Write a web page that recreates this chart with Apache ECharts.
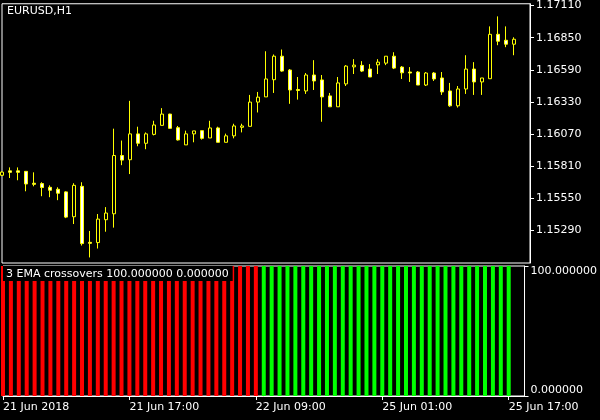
<!DOCTYPE html>
<html>
<head>
<meta charset="utf-8">
<script src="https://cdn.jsdelivr.net/npm/echarts@6/dist/echarts.min.js"></script>
<style>html,body{margin:0;padding:0;background:#000;}#c{width:600px;height:420px;}</style>
</head>
<body>
<div id="c"></div>
<script>
// Hourly bars (MT4 EURUSD,H1), plus two empty "chart shift" slots at the right
const categories = [
'06-21 01','06-21 02','06-21 03','06-21 04','06-21 05','06-21 06','06-21 07','06-21 08','06-21 09','06-21 10',
'06-21 11','06-21 12','06-21 13','06-21 14','06-21 15','06-21 16','06-21 17','06-21 18','06-21 19','06-21 20',
'06-21 21','06-21 22','06-21 23','06-22 00','06-22 01','06-22 02','06-22 03','06-22 04','06-22 05','06-22 06',
'06-22 07','06-22 08','06-22 09','06-22 10','06-22 11','06-22 12','06-22 13','06-22 14','06-22 15','06-22 16',
'06-22 17','06-22 18','06-22 19','06-22 20','06-22 21','06-22 22','06-22 23','06-25 00','06-25 01','06-25 02',
'06-25 03','06-25 04','06-25 05','06-25 06','06-25 07','06-25 08','06-25 09','06-25 10','06-25 11','06-25 12',
'06-25 13','06-25 14','06-25 15','06-25 16','06-25 17','shift1','shift2'];

const opens = [
1.15737,1.15773,1.15773,1.15769,1.15673,1.15670,1.15640,1.15624,1.15603,1.15402,
1.15648,1.15195,1.15193,1.15378,1.15426,1.15897,1.15863,1.16072,1.15996,1.16068,
1.16141,1.16232,1.16122,1.15983,1.16072,1.16098,1.16039,1.16120,1.16004,1.16056,
1.16125,1.16133,1.16329,1.16371,1.16510,1.16700,1.16588,1.16431,1.16419,1.16548,
1.16508,1.16379,1.16291,1.16476,1.16614,1.16626,1.16596,1.16630,1.16644,1.16700,
1.16612,1.16572,1.16572,1.16467,1.16564,1.16524,1.16419,1.16299,1.16435,1.16596,
1.16492,1.16518,1.16877,1.16829,1.16797];
const closes = [
1.15763,1.15761,1.15761,1.15667,1.15664,1.15638,1.15616,1.15592,1.15399,1.15656,
1.15185,1.15187,1.15383,1.15432,1.15897,1.15860,1.16072,1.15996,1.16072,1.16144,
1.16232,1.16117,1.16023,1.16072,1.16096,1.16036,1.16120,1.16004,1.16056,1.16136,
1.16136,1.16329,1.16369,1.16516,1.16700,1.16580,1.16427,1.16423,1.16548,1.16500,
1.16371,1.16291,1.16484,1.16620,1.16628,1.16580,1.16532,1.16652,1.16700,1.16604,
1.16566,1.16564,1.16467,1.16564,1.16516,1.16411,1.16299,1.16435,1.16596,1.16492,
1.16524,1.16877,1.16821,1.16797,1.16837];
const lows = [
1.15731,1.15715,1.15697,1.15608,1.15648,1.15568,1.15560,1.15536,1.15391,1.15343,
1.15169,1.15073,1.15145,1.15281,1.15314,1.15819,1.15747,1.15972,1.15948,1.16060,
1.16141,1.16114,1.16018,1.15983,1.16004,1.16026,1.16039,1.16004,1.16004,1.16036,
1.16084,1.16133,1.16245,1.16371,1.16403,1.16574,1.16315,1.16349,1.16395,1.16427,
1.16170,1.16291,1.16291,1.16459,1.16556,1.16572,1.16532,1.16556,1.16628,1.16596,
1.16516,1.16492,1.16467,1.16459,1.16500,1.16387,1.16291,1.16285,1.16395,1.16387,
1.16387,1.16518,1.16789,1.16773,1.16708];
const highs = [
1.15769,1.15801,1.15801,1.15769,1.15761,1.15681,1.15656,1.15640,1.15608,1.15673,
1.15681,1.15287,1.15424,1.15480,1.16114,1.16018,1.16339,1.16130,1.16084,1.16178,
1.16280,1.16235,1.16136,1.16098,1.16096,1.16098,1.16178,1.16130,1.16074,1.16154,
1.16154,1.16387,1.16411,1.16740,1.16714,1.16754,1.16596,1.16532,1.16564,1.16668,
1.16548,1.16403,1.16532,1.16628,1.16676,1.16660,1.16636,1.16676,1.16700,1.16732,
1.16620,1.16612,1.16580,1.16572,1.16572,1.16572,1.16484,1.16459,1.16708,1.16652,
1.16524,1.16941,1.17022,1.16941,1.16853];

// Indicator histogram buffers (3 EMA crossovers)
const downBuffer = [
100,100,100,100,100,100,100,100,100,100,
100,100,100,100,100,100,100,100,100,100,
100,100,100,100,100,100,100,100,100,100,
100,100,100,null,null,null,null,null,null,null,
null,null,null,null,null,null,null,null,null,null,
null,null,null,null,null,null,null,null,null,null,
null,null,null,null,null];
const upBuffer = [
null,null,null,null,null,null,null,null,null,null,
null,null,null,null,null,null,null,null,null,null,
null,null,null,null,null,null,null,null,null,null,
null,null,null,100,100,100,100,100,100,100,
100,100,100,100,100,100,100,100,100,100,
100,100,100,100,100,100,100,100,100,100,
100,100,100,100,100];

// Axis ticks / labels
const priceTicks = [1.15290,1.15550,1.15810,1.16070,1.16330,1.16590,1.16850,1.17110];
const indicatorTicks = [0,100];
const timeTickCats = ['06-21 01','06-21 17','06-22 09','06-25 01','06-25 17'];
const timeTickLabels = ['21 Jun 2018','21 Jun 17:00','22 Jun 09:00','25 Jun 01:00','25 Jun 17:00'];
const chartTitle = 'EURUSD,H1';
const indicatorTitle = '3 EMA crossovers 100.000000 0.000000';

const FONT = 'DejaVu Sans';
const candles = opens.map((o, i) => [o, closes[i], lows[i], highs[i]]);

const chart = echarts.init(document.getElementById('c'), null, {renderer: 'canvas', width: 600, height: 420});
chart.setOption({
  backgroundColor: '#000',
  animation: false,
  title: [
    {text: chartTitle, left: 5, top: 4, padding: [2, 2],
     textStyle: {color: '#fff', fontSize: 11, fontWeight: 'normal', fontFamily: FONT}},
    {text: indicatorTitle, left: 3, top: 266, padding: [3, 4, 1, 3], backgroundColor: '#000',
     textStyle: {color: '#fff', fontSize: 11, fontWeight: 'normal', fontFamily: FONT}}
  ],
  grid: [
    {left: 2, top: 2, width: 528, height: 261, show: true, borderColor: '#fff', borderWidth: 1, backgroundColor: '#000'},
    {left: 2, top: 266, width: 528, height: 130, show: true, borderColor: '#fff', borderWidth: 1, backgroundColor: '#000'}
  ],
  xAxis: [
    {type: 'category', gridIndex: 0, data: categories, boundaryGap: false,
     axisLine: {show: false}, axisTick: {show: false}, axisLabel: {show: false}, splitLine: {show: false}},
    {type: 'category', gridIndex: 1, data: categories, boundaryGap: false,
     axisLine: {show: true, lineStyle: {color: '#fff', width: 1}},
     axisTick: {show: true, length: 4, lineStyle: {color: '#fff'},
       interval: (i, v) => timeTickCats.indexOf(v) >= 0},
     axisLabel: {show: true, color: '#fff', fontSize: 11, fontFamily: FONT, align: 'left', margin: 6,
       interval: (i, v) => timeTickCats.indexOf(v) >= 0,
       formatter: v => { const k = timeTickCats.indexOf(v); return k >= 0 ? timeTickLabels[k] : ''; }},
     splitLine: {show: false}}
  ],
  yAxis: [
    {type: 'value', gridIndex: 0, position: 'right', min: 1.15028, max: 1.17124, scale: true,
     axisLine: {show: true, lineStyle: {color: '#fff'}},
     axisTick: {show: true, length: 4, lineStyle: {color: '#fff'}, customValues: priceTicks},
     axisLabel: {show: true, color: '#fff', fontSize: 11, fontFamily: FONT, margin: 6,
       customValues: priceTicks, formatter: v => Number(v).toFixed(5)},
     splitLine: {show: false}},
    {type: 'value', gridIndex: 1, position: 'right', min: 0, max: 100,
     axisLine: {show: true, lineStyle: {color: '#fff'}},
     axisTick: {show: true, length: 4, lineStyle: {color: '#fff'}, customValues: indicatorTicks},
     axisLabel: {show: true, color: '#fff', fontSize: 11, fontFamily: FONT, margin: 6,
       customValues: indicatorTicks, formatter: v => Number(v).toFixed(6),
       verticalAlignMinLabel: 'bottom', verticalAlignMaxLabel: 'top'},
     splitLine: {show: false}}
  ],
  series: [
    {type: 'candlestick', xAxisIndex: 0, yAxisIndex: 0, data: candles, barWidth: 4, clip: true,
     itemStyle: {color: '#000000', color0: '#ffffff', borderColor: '#ffff00', borderColor0: '#ffff00',
       borderColorDoji: '#ffff00', borderWidth: 1},
     emphasis: {disabled: true}},
    {type: 'bar', xAxisIndex: 1, yAxisIndex: 1, data: downBuffer, barWidth: 4, barGap: '-100%',
     itemStyle: {color: '#ff0000'}, emphasis: {disabled: true}},
    {type: 'bar', xAxisIndex: 1, yAxisIndex: 1, data: upBuffer, barWidth: 4, barGap: '-100%',
     itemStyle: {color: '#00ff00'}, emphasis: {disabled: true}}
  ]
});
</script>
</body>
</html>
